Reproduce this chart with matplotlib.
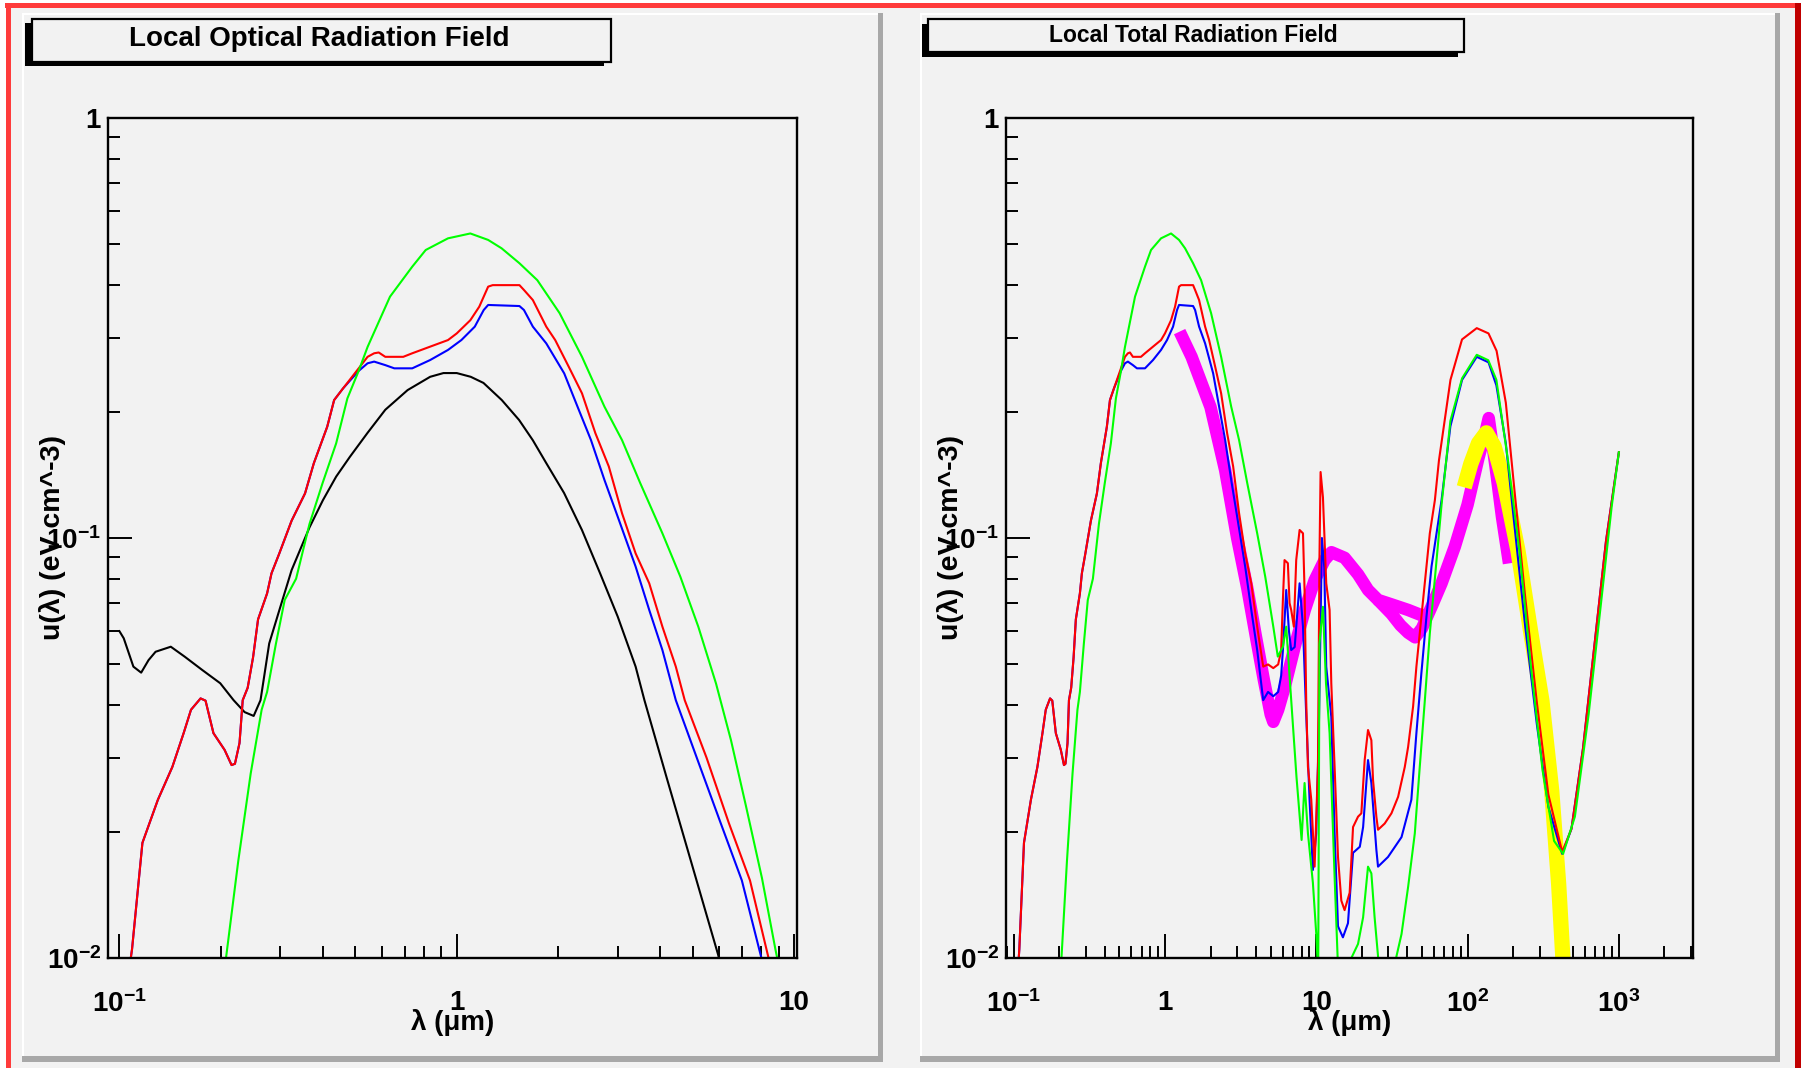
import numpy as np
import matplotlib
matplotlib.use("Agg")
import matplotlib.pyplot as plt
from matplotlib.patches import Rectangle
from matplotlib.ticker import LogLocator, NullFormatter

W, H, DPI = 1805, 1068, 100

plt.rcParams['font.family'] = ['Liberation Sans', 'DejaVu Sans']
plt.rcParams['mathtext.fontset'] = 'custom'
plt.rcParams['mathtext.rm'] = 'Liberation Sans:bold'
plt.rcParams['mathtext.bf'] = 'Liberation Sans:bold'
plt.rcParams['mathtext.it'] = 'Liberation Sans:bold'
plt.rcParams['mathtext.default'] = 'bf'

# ---------------- stellar (optical) radiation field ----------------
black_lam = [0.100, 0.103, 0.110, 0.116, 0.122, 0.128, 0.142, 0.156, 0.176, 0.199,
             0.218, 0.235, 0.250, 0.262, 0.278, 0.296, 0.324, 0.366, 0.401, 0.439,
             0.482, 0.544, 0.614, 0.715, 0.834, 0.913, 1.00, 1.10, 1.20, 1.36,
             1.53, 1.68, 1.84, 2.08, 2.35, 2.66, 3.00, 3.39, 3.60, 4.20, 5.00, 5.95, 6.3]
black_u = [0.060, 0.0577, 0.0494, 0.0478, 0.0512, 0.0536, 0.0551, 0.0522, 0.0485, 0.0451,
           0.0411, 0.0385, 0.0377, 0.0411, 0.0561, 0.0662, 0.0839, 0.106, 0.123, 0.140,
           0.156, 0.178, 0.202, 0.225, 0.242, 0.247, 0.247, 0.242, 0.234, 0.213,
           0.191, 0.171, 0.151, 0.128, 0.1045, 0.0824, 0.065, 0.0494, 0.0411, 0.0267, 0.0165, 0.0102, 0.0085]

red_lam = [0.105, 0.109, 0.117, 0.130, 0.1435, 0.155, 0.163, 0.174, 0.180, 0.190,
           0.205, 0.215, 0.220, 0.227, 0.232, 0.240, 0.249, 0.2576, 0.274, 0.2824,
           0.298, 0.324, 0.355, 0.377, 0.413, 0.433, 0.460, 0.512, 0.544, 0.569,
           0.587, 0.614, 0.694, 0.738, 0.834, 0.942, 1.000, 1.097, 1.166, 1.239,
           1.278, 1.534, 1.582, 1.681, 1.842, 1.958, 2.146, 2.351, 2.576, 2.823,
           3.09, 3.39, 3.72, 4.07, 4.46, 4.74, 5.5, 6.4, 7.4, 8.4, 8.8]
red_u = [0.0085, 0.0105, 0.0188, 0.0238, 0.0285, 0.0343, 0.039, 0.0415, 0.041, 0.0343,
         0.0313, 0.0288, 0.0290, 0.0325, 0.0411, 0.0440, 0.0520, 0.0640, 0.0738, 0.0824,
         0.092, 0.110, 0.1277, 0.1507, 0.184, 0.213, 0.227, 0.2535, 0.270, 0.2753,
         0.2765, 0.270, 0.270, 0.2753, 0.2855, 0.296, 0.307, 0.330, 0.3554, 0.3967,
         0.400, 0.400, 0.3895, 0.3686, 0.3186, 0.296, 0.256, 0.221, 0.1776, 0.148,
         0.1145, 0.0919, 0.078, 0.0615, 0.0494, 0.0411, 0.030, 0.021, 0.0153, 0.0100, 0.0088]

blue_lam = [0.105, 0.109, 0.117, 0.130, 0.1435, 0.155, 0.163, 0.174, 0.180, 0.190,
            0.205, 0.215, 0.220, 0.227, 0.232, 0.240, 0.249, 0.2576, 0.274, 0.2824,
            0.298, 0.324, 0.355, 0.377, 0.413, 0.433, 0.460, 0.512, 0.544, 0.569,
            0.614, 0.653, 0.738, 0.834, 0.942, 1.032, 1.131, 1.202, 1.239, 1.534,
            1.582, 1.681, 1.842, 2.082, 2.28, 2.50, 2.74, 3.0, 3.39, 3.72,
            4.07, 4.46, 5.2, 6.0, 7.0, 8.0, 8.4]
blue_u = [0.0085, 0.0105, 0.0188, 0.0238, 0.0285, 0.0343, 0.039, 0.0415, 0.041, 0.0343,
          0.0313, 0.0288, 0.0290, 0.0325, 0.0411, 0.0440, 0.0520, 0.0640, 0.0738, 0.0824,
          0.092, 0.110, 0.1277, 0.1507, 0.184, 0.213, 0.227, 0.250, 0.2606, 0.263,
          0.258, 0.2535, 0.2535, 0.2653, 0.2804, 0.296, 0.3186, 0.349, 0.3588, 0.3567,
          0.349, 0.3186, 0.2907, 0.2466, 0.2055, 0.171, 0.1375, 0.1124, 0.0855, 0.0674,
          0.0541, 0.0411, 0.0293, 0.0214, 0.0153, 0.0100, 0.0088]

green_lam = [0.200, 0.207, 0.225, 0.245, 0.264, 0.274, 0.291, 0.309, 0.334, 0.366,
             0.400, 0.439, 0.474, 0.512, 0.544, 0.634, 0.738, 0.809, 0.942, 1.097,
             1.239, 1.358, 1.534, 1.733, 2.018, 2.351, 2.74, 3.09, 3.50, 4.07,
             4.60, 5.20, 5.87, 6.5, 7.2, 8.03, 8.8, 9.2]
green_u = [0.0085, 0.0100, 0.0170, 0.0275, 0.039, 0.0430, 0.056, 0.0712, 0.0800, 0.108,
           0.135, 0.168, 0.215, 0.250, 0.285, 0.3755, 0.4426, 0.485, 0.517, 0.531,
           0.5125, 0.4895, 0.451, 0.411, 0.343, 0.270, 0.2055, 0.171, 0.135, 0.1026,
           0.0809, 0.0615, 0.045, 0.033, 0.023, 0.0155, 0.0105, 0.0088]

# ---------------- dust / CMB part of the total field ----------------
red_ir_lam = [4.8, 5.2, 5.6, 5.86, 6.02, 6.17, 6.49, 6.66, 6.83, 7.11,
              7.37, 7.76, 8.17, 8.37, 8.58, 8.81, 9.27, 9.75, 10.26, 10.5,
              10.68, 11.07, 11.64, 12.25, 12.57, 13.22, 13.92, 14.64, 15.39, 16.62,
              17.06, 17.5, 18.88, 19.86, 20.89, 21.98, 23.13, 23.73, 24.96, 25.6,
              28.33, 31.39, 34.75, 38.46, 40.46, 43.65, 45.9, 48.3, 51.6, 56.3,
              60.8, 64.7, 77.1, 91.9, 115, 137.5, 155.5, 179, 202, 241,
              287, 342, 422, 486, 579, 690, 822, 1000]
red_ir_u = [0.050, 0.049, 0.050, 0.054, 0.0715, 0.0886, 0.0871, 0.070, 0.0674, 0.0615,
            0.0886, 0.1045, 0.1026, 0.075, 0.0411, 0.0285, 0.0238, 0.0165, 0.0285, 0.090,
            0.1436, 0.125, 0.078, 0.0674, 0.0451, 0.0285, 0.0174, 0.0137, 0.0130, 0.0143,
            0.0171, 0.0205, 0.0217, 0.0221, 0.0296, 0.0349, 0.033, 0.0265, 0.0217, 0.0202,
            0.0209, 0.0221, 0.0242, 0.0285, 0.0318, 0.0397, 0.0494, 0.0593, 0.0752, 0.1026,
            0.123, 0.153, 0.238, 0.297, 0.316, 0.307, 0.279, 0.210, 0.135, 0.0717,
            0.0406, 0.0245, 0.0179, 0.0203, 0.0315, 0.0557, 0.0983, 0.160]

blue_ir_lam = [4.8, 5.2, 5.6, 5.86, 6.02, 6.33, 6.6, 6.83, 7.2, 7.76,
               8.17, 8.58, 9.03, 9.5, 10.0, 10.4, 10.9, 11.3, 11.64, 12.57,
               13.22, 13.92, 15.0, 16.2, 17.5, 19.4, 20.4, 21.98, 23.13, 24.96,
               25.6, 29.8, 36.6, 42.5, 45.9, 49.5, 53.5, 57.8, 67.3, 77,
               92, 115, 137.5, 155, 179, 202, 241, 287, 342, 422,
               486, 579, 690, 822, 1000]
blue_ir_u = [0.043, 0.042, 0.043, 0.047, 0.0541, 0.0752, 0.060, 0.0541, 0.055, 0.078,
             0.0615, 0.038, 0.0238, 0.0162, 0.0198, 0.035, 0.100, 0.085, 0.0494, 0.0375,
             0.0198, 0.0119, 0.0112, 0.0121, 0.0178, 0.0184, 0.0205, 0.0296, 0.0261, 0.0181,
             0.0165, 0.0174, 0.0194, 0.0238, 0.0343, 0.0476, 0.065, 0.0856, 0.123, 0.1845,
             0.238, 0.270, 0.262, 0.231, 0.168, 0.111, 0.0611, 0.036, 0.0229, 0.0177,
             0.0203, 0.0315, 0.0557, 0.0983, 0.160]

green_ir_lam = [5.57, 6.02, 6.33, 6.83, 7.4, 8.0, 8.37, 8.81, 9.5, 10.0,
                10.3, 10.5, 11.07, 11.6, 12.25, 13.22, 13.92, 15.0, 17.06, 18.88,
                20.4, 21.98, 23.13, 24.3, 25.6, 28.0, 33.9, 36.6, 40.5, 44.8,
                48.3, 52.2, 56.3, 60.8, 67.3, 77, 92, 115, 137, 155,
                185, 221, 263, 313, 373, 428, 512, 631, 753, 897, 1000]
green_ir_u = [0.0522, 0.0551, 0.0615, 0.0411, 0.027, 0.0191, 0.0261, 0.0198, 0.0151, 0.0114,
              0.0092, 0.0561, 0.0686, 0.045, 0.0343, 0.0156, 0.0095, 0.006, 0.0100, 0.0108,
              0.0125, 0.0165, 0.0159, 0.0125, 0.0101, 0.007, 0.0101, 0.0114, 0.0148, 0.0198,
              0.0285, 0.0411, 0.0593, 0.080, 0.120, 0.190, 0.240, 0.273, 0.265, 0.238,
              0.153, 0.092, 0.049, 0.028, 0.019, 0.0177, 0.0217, 0.038, 0.0673, 0.119, 0.160]

magenta_a_lam = [1.25, 1.5, 2.0, 2.5, 3.0, 3.5, 4.0, 4.5, 5.0, 5.2,
                 5.6, 6.2, 7.2, 8.4, 9.75, 11.35, 12.6, 15.4, 18.9, 22.0,
                 25.6, 31.4, 40.5, 49.5, 55.0]
magenta_a_u = [0.31, 0.27, 0.205, 0.145, 0.100, 0.076, 0.058, 0.046, 0.038, 0.0365,
               0.039, 0.0443, 0.0551, 0.0674, 0.0793, 0.0886, 0.0925, 0.0897, 0.0819, 0.0752,
               0.0712, 0.0695, 0.0674, 0.0655, 0.0655]
magenta_b_lam = [25.6, 31.4, 36.0, 40.5, 45.0, 50.0, 57.8, 67.3, 82.4, 100,
                 118, 132, 138, 145, 153, 169, 188]
magenta_b_u = [0.0712, 0.066, 0.062, 0.0595, 0.058, 0.061, 0.0686, 0.078, 0.0954, 0.120,
               0.155, 0.180, 0.193, 0.170, 0.148, 0.112, 0.087]

yellow_lam = [95, 105, 118, 133, 150, 175, 215, 262, 310, 360, 400, 430]
yellow_u = [0.132, 0.150, 0.168, 0.178, 0.165, 0.135, 0.0936, 0.0594, 0.041, 0.025, 0.015, 0.0095]

# axis ticks and labels
y_ticks = [0.01, 0.1, 1]
y_tick_labels = [r'$10^{-2}$', r'$10^{-1}$', '1']
x_ticks_opt = [0.1, 1, 10]
x_labels_opt = [r'$10^{-1}$', '1', '10']
x_ticks_tot = [0.1, 1, 10, 100, 1000]
x_labels_tot = [r'$10^{-1}$', '1', '10', r'$10^{2}$', r'$10^{3}$']

title_opt = 'Local Optical Radiation Field'
title_tot = 'Local Total Radiation Field'
xlabel = 'λ (μm)'
ylabel = 'u(λ) (eV cm^-3)'

PANEL = '#f2f2f2'

fig = plt.figure(figsize=(W / DPI, H / DPI), dpi=DPI, facecolor='white')


def frac(x0, y0, x1, y1):
    return (x0 / W, 1 - y1 / H, (x1 - x0) / W, (y1 - y0) / H)


def box(x0, y0, x1, y1, z, **kw):
    l, b, w, h = frac(x0, y0, x1, y1)
    fig.add_artist(Rectangle((l, b), w, h, transform=fig.transFigure, zorder=z, **kw))


# canvas and outer frame
box(11, 8, 1795, 1068, 0, facecolor=PANEL, edgecolor='none')
box(5, 3, 1800, 8, 1, facecolor='#ff3b3b', edgecolor='none')
box(6, 3, 11, 1068, 1, facecolor='#ff3b3b', edgecolor='none')
box(1795, 3, 1801, 1068, 1, facecolor='#c00000', edgecolor='none')

# pads with raised bevel
for (x0, y0, x1, y1) in [(22, 13, 883, 1062), (920, 13, 1780, 1062)]:
    box(x0, y0, x1, y1, 1, facecolor='#a8a8a8', edgecolor='none')
    box(x0, y0, x1 - 5, y1 - 6, 1.1, facecolor='white', edgecolor='none')
    box(x0 + 2, y0 + 2, x1 - 5, y1 - 6, 1.2, facecolor=PANEL, edgecolor='none')

# title boxes with drop shadow
box(25, 23, 604, 66, 2, facecolor='black', edgecolor='none')
box(32, 19, 611, 62, 2.1, facecolor=PANEL, edgecolor='black', linewidth=1.6)
fig.text(319 / W, 1 - 39 / H, title_opt, ha='center', va='center',
         fontsize=20, fontweight='bold', zorder=3)
box(922, 24, 1458, 57, 2, facecolor='black', edgecolor='none')
box(928, 19, 1464, 52, 2.1, facecolor=PANEL, edgecolor='black', linewidth=1.6)
fig.text(1193 / W, 1 - 35 / H, title_tot, ha='center', va='center',
         fontsize=16.5, fontweight='bold', zorder=3)


def style_axes(ax, xlim, xticks, xlabels):
    ax.set_facecolor(PANEL)
    ax.set_xscale('log')
    ax.set_yscale('log')
    ax.set_xlim(*xlim)
    ax.set_ylim(0.01, 1)
    ax.set_xticks(xticks)
    ax.set_xticklabels(xlabels)
    ax.set_yticks(y_ticks)
    ax.set_yticklabels(y_tick_labels)
    ax.xaxis.set_minor_locator(LogLocator(base=10, subs=np.arange(2, 10), numticks=30))
    ax.yaxis.set_minor_locator(LogLocator(base=10, subs=np.arange(2, 10), numticks=30))
    ax.xaxis.set_minor_formatter(NullFormatter())
    ax.yaxis.set_minor_formatter(NullFormatter())
    ax.tick_params(which='both', direction='in', top=False, right=False, width=1.4,
                   labelsize=20)
    ax.tick_params(which='major', length=17)
    ax.tick_params(which='minor', length=8.5)
    ax.tick_params(axis='x', which='major', pad=23)
    ax.tick_params(axis='y', which='major', pad=5)
    for lab in ax.get_xticklabels() + ax.get_yticklabels():
        lab.set_fontweight('bold')
    for sp in ax.spines.values():
        sp.set_linewidth(1.7)
    ax.set_xlabel(xlabel, fontsize=20, fontweight='bold')
    ax.set_ylabel(ylabel, fontsize=20.5, fontweight='bold')
    ax.xaxis.label.set_va('center')
    ax.yaxis.label.set_va('center')


# left panel: optical field
ax1 = fig.add_axes(frac(108, 118, 797, 958), zorder=5)
style_axes(ax1, (0.0925, 10.2), x_ticks_opt, x_labels_opt)
ax1.xaxis.set_label_coords(0.5, -(1023 - 958) / 840)
ax1.yaxis.set_label_coords(-(108 - 52) / 689, 0.5)
lw = 1.5
ax1.plot(black_lam, black_u, color='black', lw=lw)
ax1.plot(blue_lam, blue_u, color='#0000ff', lw=lw)
ax1.plot(red_lam, red_u, color='#ff0000', lw=lw)
ax1.plot(green_lam, green_u, color='#00ff00', lw=lw)

# right panel: total field (stars + dust + CMB)
ax2 = fig.add_axes(frac(1006, 118, 1693, 958), zorder=5)
style_axes(ax2, (0.089, 3090), x_ticks_tot, x_labels_tot)
ax2.xaxis.set_label_coords(0.5, -(1023 - 958) / 840)
ax2.yaxis.set_label_coords(-(1006 - 951) / 687, 0.5)

rl, ru = np.array(red_lam), np.array(red_u)
bl, bu = np.array(blue_lam), np.array(blue_u)
gl, gu = np.array(green_lam), np.array(green_u)
red_tot_lam = np.concatenate([rl[rl < 4.6], red_ir_lam])
red_tot_u = np.concatenate([ru[rl < 4.6], red_ir_u])
blue_tot_lam = np.concatenate([bl[bl < 4.6], blue_ir_lam])
blue_tot_u = np.concatenate([bu[bl < 4.6], blue_ir_u])
green_tot_lam = np.concatenate([gl[gl < 5.3], green_ir_lam])
green_tot_u = np.concatenate([gu[gl < 5.3], green_ir_u])

ax2.plot(magenta_a_lam, magenta_a_u, color='#ff00ff', lw=9, solid_capstyle='butt')
ax2.plot(magenta_b_lam, magenta_b_u, color='#ff00ff', lw=9, solid_capstyle='butt')
ax2.plot(yellow_lam, yellow_u, color='#ffff00', lw=11, solid_capstyle='butt')
ax2.plot(blue_tot_lam, blue_tot_u, color='#0000ff', lw=lw)
ax2.plot(red_tot_lam, red_tot_u, color='#ff0000', lw=lw)
ax2.plot(green_tot_lam, green_tot_u, color='#00ff00', lw=lw)

fig.savefig('out.png', dpi=DPI, facecolor=fig.get_facecolor())
